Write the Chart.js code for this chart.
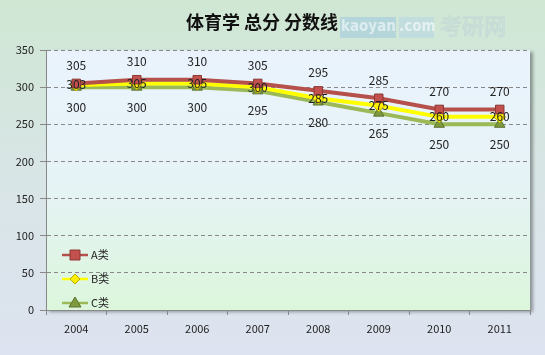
<!DOCTYPE html>
<html>
<head>
<meta charset="utf-8">
<script src="https://cdn.jsdelivr.net/npm/chart.js@4"></script>
<style>
  html, body { margin: 0; padding: 0; }
  body { width: 545px; height: 355px; overflow: hidden;
    background: linear-gradient(to bottom, #cfe7d3 0%, #d8e5e6 50%, #dde3f0 100%); }
  #wrap { position: relative; width: 545px; height: 355px; }
</style>
</head>
<body>
<div id="wrap"><canvas id="scoreChart" width="545" height="355"></canvas></div>
<script>
const years = ["2004", "2005", "2006", "2007", "2008", "2009", "2010", "2011"]
const seriesA = [305, 310, 310, 305, 295, 285, 270, 270]
const seriesB = [303, 305, 305, 300, 285, 275, 260, 260]
const seriesC = [300, 300, 300, 295, 280, 265, 250, 250]
const seriesNames = ["A类", "B类", "C类"]
const yTicks = [0, 50, 100, 150, 200, 250, 300, 350]
const titleText = "体育学 总分 分数线"

const fontFamily = "'Noto Sans CJK SC', 'DejaVu Sans', sans-serif"

// plot background + title + watermark
const backdrop = {
  id: "backdrop",
  beforeDraw(chart) {
    const { ctx, chartArea: a } = chart
    ctx.save()
    ctx.shadowColor = "rgba(0,0,0,0.35)"
    ctx.shadowOffsetX = 3
    ctx.shadowOffsetY = 2
    ctx.shadowBlur = 3
    const g = ctx.createLinearGradient(0, a.top, 0, a.bottom)
    g.addColorStop(0, "#eaf3fd")
    g.addColorStop(0.5, "#e6f3f6")
    g.addColorStop(1, "#dcf6dc")
    ctx.fillStyle = g
    ctx.fillRect(a.left, a.top, a.right - a.left, a.bottom - a.top)
    ctx.restore()

    ctx.save()
    ctx.font = "bold 18px " + fontFamily
    ctx.fillStyle = "#111"
    ctx.textAlign = "center"
    ctx.textBaseline = "middle"
    ctx.fillText(titleText, 262, 22)
    // watermark
    ctx.globalAlpha = 0.55
    ctx.fillStyle = "#9cc6dc"
    ctx.fillRect(340, 17, 56, 21)
    ctx.fillStyle = "#b7d6e6"
    ctx.fillRect(399, 17, 35, 21)
    ctx.font = "bold 15px 'DejaVu Sans Condensed', sans-serif"
    ctx.fillStyle = "#ffffff"
    ctx.textAlign = "left"
    ctx.fillText("kaoyan", 341, 27)
    ctx.fillText(".com", 399, 27)
    ctx.font = "22px " + fontFamily
    ctx.strokeStyle = "#b9cfd9"
    ctx.lineWidth = 1
    ctx.strokeText("考研网", 440, 26)
    ctx.restore()
  }
}

// value labels + legend
const labelsAndLegend = {
  id: "labelsAndLegend",
  afterDatasetsDraw(chart) {
    const { ctx } = chart
    const offsets = [-18, 0, 20]
    ctx.save()
    ctx.font = "12px " + fontFamily
    ctx.fillStyle = "#222"
    ctx.textAlign = "center"
    ctx.textBaseline = "middle"
    chart.data.datasets.forEach((ds, i) => {
      const meta = chart.getDatasetMeta(i)
      meta.data.forEach((pt, j) => {
        ctx.fillText(ds.data[j], pt.x, pt.y + offsets[i])
      })
    })

    // legend inside plot
    const legendY = [255, 279, 303]
    ctx.font = "11px " + fontFamily
    chart.data.datasets.forEach((ds, i) => {
      const y = legendY[i]
      ctx.strokeStyle = ds.borderColor
      ctx.lineWidth = 2.5
      ctx.beginPath()
      ctx.moveTo(62, y)
      ctx.lineTo(88, y)
      ctx.stroke()
      ctx.fillStyle = ds.pointBackgroundColor
      ctx.strokeStyle = ds.pointBorderColor
      ctx.lineWidth = 1
      ctx.beginPath()
      drawMarker(ctx, ds.pointStyle, 75, y, 5)
      ctx.fill()
      ctx.stroke()
      ctx.fillStyle = "#222"
      ctx.textAlign = "left"
      ctx.fillText(seriesNames[i], 91, y)
    })
    ctx.restore()
  }
}

function drawMarker(ctx, style, x, y, r) {
  if (style === "rect") {
    ctx.rect(x - r, y - r, 2 * r, 2 * r)
  } else if (style === "rectRot") {
    ctx.moveTo(x, y - r); ctx.lineTo(x + r, y); ctx.lineTo(x, y + r); ctx.lineTo(x - r, y); ctx.closePath()
  } else {
    ctx.moveTo(x, y - r - 1); ctx.lineTo(x + r + 1, y + r - 1); ctx.lineTo(x - r - 1, y + r - 1); ctx.closePath()
  }
}

const ctxEl = document.getElementById("scoreChart")
const myChart = new Chart(ctxEl, {
  type: "line",
  data: {
    labels: years,
    datasets: [
      {
        label: seriesNames[0], data: seriesA,
        borderColor: "#b5504b", borderWidth: 4,
        pointStyle: "rect", pointRadius: 6,
        pointBackgroundColor: "#c2504d", pointBorderColor: "#8c3836", pointBorderWidth: 1
      },
      {
        label: seriesNames[1], data: seriesB,
        borderColor: "#ffff00", borderWidth: 4,
        pointStyle: "rectRot", pointRadius: 6,
        pointBackgroundColor: "#ffee00", pointBorderColor: "#b8a800", pointBorderWidth: 1
      },
      {
        label: seriesNames[2], data: seriesC,
        borderColor: "#9bb957", borderWidth: 4,
        pointStyle: "triangle", pointRadius: 6,
        pointBackgroundColor: "#7f9a3e", pointBorderColor: "#5d7330", pointBorderWidth: 1
      }
    ]
  },
  options: {
    responsive: false,
    animation: false,
    layout: { padding: { top: 50, right: 15, bottom: 10, left: 0 } },
    plugins: {
      legend: { display: false },
      title: { display: false },
      tooltip: { enabled: false }
    },
    scales: {
      x: {
        offset: true,
        grid: { offset: true, drawOnChartArea: false, drawTicks: true, tickLength: 5, color: "#888" },
        border: { color: "#888", width: 1 },
        ticks: { color: "#222", font: { size: 11, family: fontFamily }, padding: 7 },
        afterFit(scale) { scale.height = 35 }
      },
      y: {
        min: 0, max: 350,
        afterBuildTicks(scale) { scale.ticks = yTicks.map(v => ({ value: v })) },
        grid: { color: "#888", tickLength: 6, drawTicks: true },
        border: { color: "#888", width: 1, dash: [4, 3] },
        ticks: { color: "#222", font: { size: 11, family: fontFamily }, padding: 6 },
        afterFit(scale) { scale.width = 46 }
      }
    }
  },
  plugins: [backdrop, labelsAndLegend]
})
</script>
</body>
</html>
